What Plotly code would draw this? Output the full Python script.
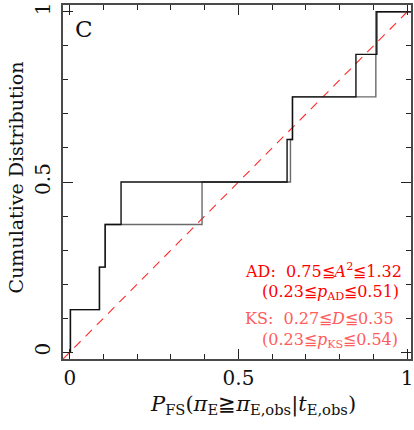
import plotly.graph_objects as go

# Cumulative distributions (8 events, steps of 1/8)
black_x = [0.002, 0.088, 0.105, 0.152, 0.644, 0.660, 0.848, 0.910]
gray_x = [0.002, 0.088, 0.105, 0.392, 0.654, 0.660, 0.907, 0.907]
cdf_levels = [0, 0.125, 0.25, 0.375, 0.5, 0.625, 0.75, 0.875, 1.0]
x_end = 1.02
diag = [-0.02, 1.02]

x_ticks = [0, 0.5, 1]
x_tick_text = ["0", "0.5", "1"]
y_ticks = [0, 0.5, 1]
y_tick_text = ["0", "0.5", "1"]

stats_lines = [
    ("AD:  0.75≦<i>A</i><sup>2</sup>≦1.32", "#ff0000", 0),
    ("(0.23≦<i>p</i><sub>AD</sub>≦0.51)", "#ff0000", 1),
    ("KS:  0.27≦<i>D</i>≦0.35", "#ff5c5c", 0),
    ("(0.23≦<i>p</i><sub>KS</sub>≦0.54)", "#ff5c5c", 1),
]

FONT = "DejaVu Serif"
W, H = 414, 430
ml, mr, mt, mb = 63, 0, 5, 71
ppu = (H - mt - mb) / 1.04
xmax = -0.02 + (W - ml - mr) / ppu

fig = go.Figure()
fig.add_trace(go.Scatter(x=diag, y=diag, mode="lines",
                         line=dict(color="#ff2a2a", width=1.1, dash="9px,7px"),
                         hoverinfo="skip", showlegend=False))
fig.add_trace(go.Scatter(x=gray_x + [x_end], y=cdf_levels, mode="lines",
                         line=dict(color="#6a6a6a", width=1.4, shape="vh"),
                         showlegend=False))
fig.add_trace(go.Scatter(x=black_x + [x_end], y=cdf_levels, mode="lines",
                         line=dict(color="#111111", width=1.4, shape="vh"),
                         showlegend=False))

axis_common = dict(showgrid=False, zeroline=False, showline=True,
                   linecolor="#4a4a4a", linewidth=1.6, ticks="inside",
                   ticklen=10, tickwidth=1, tickcolor="#222",
                   tickfont=dict(family=FONT, size=20, color="#111"))

fig.update_xaxes(range=[-0.02, xmax], tickvals=x_ticks, ticktext=x_tick_text,
                 mirror="allticks", ticklabeloverflow="allow",
                 minor=dict(dtick=0.1, tick0=0, ticklen=5, ticks="inside",
                            tickcolor="#222", tickwidth=1),
                 **axis_common)
fig.update_yaxes(range=[-0.02, 1.02], tickvals=y_ticks, ticktext=y_tick_text,
                 mirror="ticks", tickangle=-90, ticklabelstandoff=3,
                 ticklabeloverflow="allow",
                 minor=dict(dtick=0.1, tick0=0, ticklen=5, ticks="inside",
                            tickcolor="#222", tickwidth=1),
                 **axis_common)

fig.update_layout(
    width=W, height=H, margin=dict(l=ml, r=mr, t=mt, b=mb),
    paper_bgcolor="white", plot_bgcolor="white",
)

annotations = [
    dict(text="Cumulative Distribution", xref="paper", yref="paper",
         x=(16 - ml) / (W - ml - mr), y=(H - mb - 177) / (H - mt - mb),
         textangle=-90, showarrow=False, xanchor="center", yanchor="middle",
         font=dict(family=FONT, size=19, color="#111")),
    dict(text="<i>P</i><sub>FS</sub>(<i>π</i><sub>E</sub>≧<i>π</i><sub>E,obs</sub>|<i>t</i><sub>E,obs</sub>)",
         xref="paper", yref="paper",
         x=(255 - ml) / (W - ml - mr), y=(H - mb - 405) / (H - mt - mb),
         showarrow=False, xanchor="center", yanchor="middle",
         font=dict(family=FONT, size=21, color="#111")),
    dict(text="C", xref="paper", yref="paper",
         x=(84 - ml) / (W - ml - mr), y=(H - mb - 29) / (H - mt - mb),
         showarrow=False, xanchor="center", yanchor="middle",
         font=dict(family=FONT, size=23, color="#111")),
]
line_y = [270, 292, 318, 340]
for (txt, col, indent), yy in zip(stats_lines, line_y):
    annotations.append(dict(
        text=txt, xref="paper", yref="paper",
        x=((262 if indent else 245) - ml) / (W - ml - mr),
        y=(H - mb - yy) / (H - mt - mb),
        showarrow=False, xanchor="left", yanchor="middle",
        font=dict(family=FONT, size=16, color=col)))
fig.update_layout(annotations=annotations)

fig.write_html("out.html")
